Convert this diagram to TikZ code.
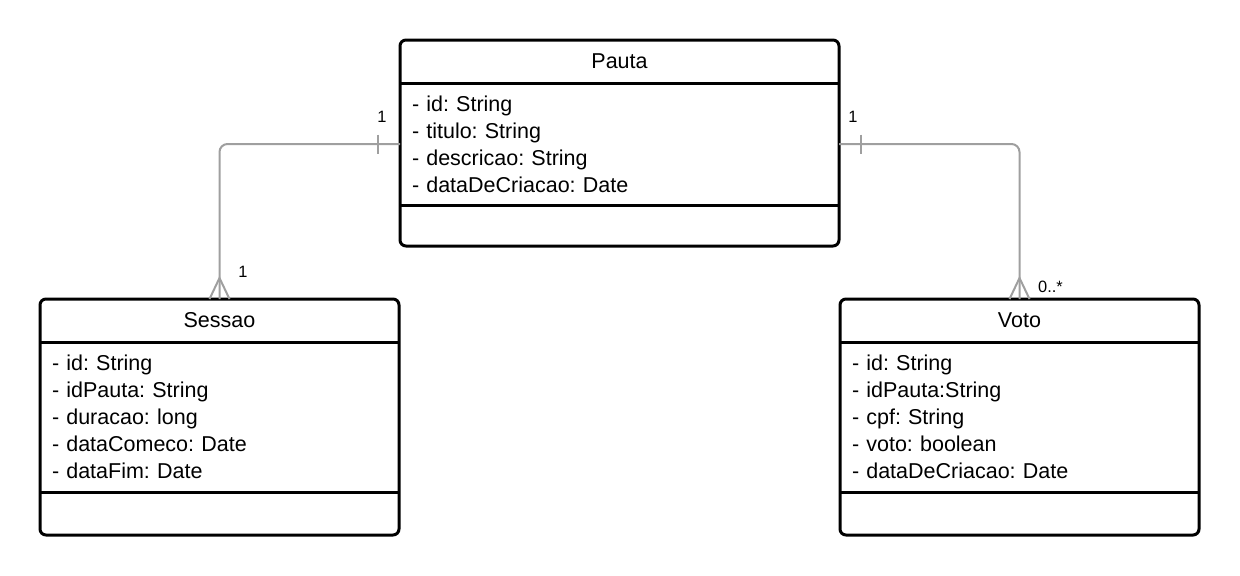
\documentclass[tikz,border=0pt]{standalone}
\usepackage{fontspec}
\setmainfont{Liberation Sans}
\frenchspacing
\usetikzlibrary{positioning,calc}

\begin{document}
\begin{tikzpicture}[x=0.5pt, y=-0.5pt,
  cabec/.style = {minimum height=21.5pt, inner sep=0pt, outer sep=0pt, font=\fontsize{10.75}{13.5}\selectfont},
  atrib/.style = {inner xsep=6pt, inner ysep=0pt, outer sep=0pt, align=left, font=\fontsize{10.75}{13.5}\selectfont\frenchspacing},
  borda/.style = {draw=black, line width=1.5pt},
  liga/.style = {draw=gray!75, line width=1pt},
  rotulo/.style = {inner sep=0pt, font=\fontsize{8.2}{10}\selectfont}]
\useasboundingbox (0,0) rectangle (1240,575);

% classe Pauta
\node[cabec, minimum width=219.5pt] (pauta) at (619.5,61.5) {Pauta};
\node[atrib, text width=207.5pt, minimum height=61pt, below=0pt of pauta] (pautaAtr) {- id: String\\- titulo: String\\- descricao: String\\- dataDeCriacao: Date};
\node[cabec, minimum width=219.5pt, minimum height=20.5pt, below=0pt of pautaAtr] (pautaMet) {};
\draw[borda, rounded corners=3pt] (pauta.north west) rectangle (pautaMet.south east);
\draw[borda] (pauta.south west) -- (pauta.south east);
\draw[borda] (pautaAtr.south west) -- (pautaAtr.south east);

% classe Sessao
\node[cabec, minimum width=179.5pt] (sessao) at (219.5,320.5) {Sessao};
\node[atrib, text width=167.5pt, minimum height=75pt, below=0pt of sessao] (sessaoAtr) {- id: String\\- idPauta: String\\- duracao: long\\- dataComeco: Date\\- dataFim: Date};
\node[cabec, minimum width=179.5pt, below=0pt of sessaoAtr] (sessaoMet) {};
\draw[borda, rounded corners=3pt] (sessao.north west) rectangle (sessaoMet.south east);
\draw[borda] (sessao.south west) -- (sessao.south east);
\draw[borda] (sessaoAtr.south west) -- (sessaoAtr.south east);

% classe Voto
\node[cabec, minimum width=179.5pt] (voto) at (1019.5,320.5) {Voto};
\node[atrib, text width=167.5pt, minimum height=75pt, below=0pt of voto] (votoAtr) {- id: String\\- idPauta:String\\- cpf: String\\- voto: boolean\\- dataDeCriacao: Date};
\node[cabec, minimum width=179.5pt, below=0pt of votoAtr] (votoMet) {};
\draw[borda, rounded corners=3pt] (voto.north west) rectangle (votoMet.south east);
\draw[borda] (voto.south west) -- (voto.south east);
\draw[borda] (votoAtr.south west) -- (votoAtr.south east);

% Pauta -- Sessao
\draw[liga, rounded corners=4pt] (pautaAtr.west) -| (sessao.north);
\draw[liga] ($(pautaAtr.west)+(-22,-9.5)$) -- ++(0,19);
\draw[liga] ($(sessao.north)+(-10,0)$) -- ++(10,-21) -- ++(10,21);
\node[rotulo] (multPS) at ($(pautaAtr.west)+(-18,-27)$) {1};
\node[rotulo] (multSP) at ($(sessao.north)+(23.5,-27)$) {1};

% Pauta -- Voto
\draw[liga, rounded corners=4pt] (pautaAtr.east) -| (voto.north);
\draw[liga] ($(pautaAtr.east)+(22,-9.5)$) -- ++(0,19);
\draw[liga] ($(voto.north)+(-10,0)$) -- ++(10,-21) -- ++(10,21);
\node[rotulo] (multPV) at ($(pautaAtr.east)+(14,-27)$) {1};
\node[rotulo] (multVP) at ($(voto.north)+(31,-12)$) {0..*};
\end{tikzpicture}
\end{document}
